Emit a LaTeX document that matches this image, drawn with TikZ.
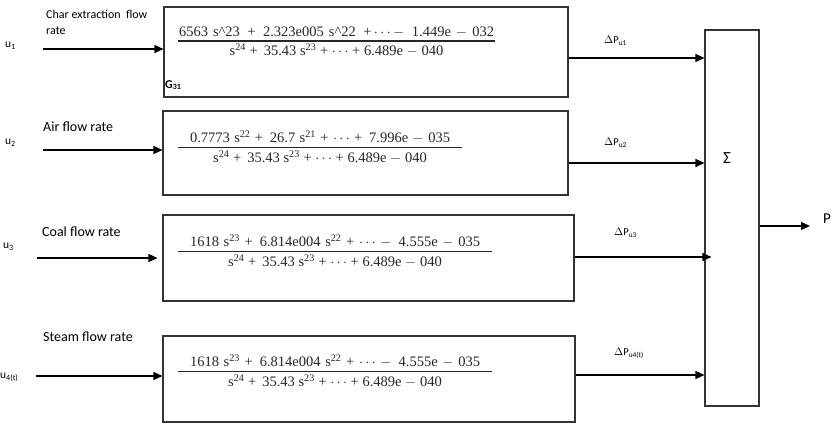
\documentclass[tikz,border=0pt]{standalone}
\usepackage{fontspec}
\setmainfont{Carlito}
\newfontfamily\fracfont{Liberation Serif}
\usetikzlibrary{arrows.meta}
\tikzset{
  blk/.style={draw=black!80, line width=1.1pt, inner sep=0pt, rectangle},
  sig/.style={line width=1.3pt, -{Triangle[length=9pt,width=8pt]}},
  lbl/.style={inner sep=0pt, anchor=west, font=\fontsize{10.5}{12}\selectfont},
  ulbl/.style={inner sep=0pt, anchor=west, font=\fontsize{11.5}{13}\selectfont},
  flbl/.style={inner sep=0pt, anchor=west, font=\fontsize{14}{16}\selectfont},
  fr/.style={inner sep=0pt, font=\fracfont\fontsize{14.5}{16}\selectfont, text=black!85},
}
\newcommand{\myexp}[1]{\textsuperscript{#1}}
% \myfrac{bar width}{numerator width}{numerator}{denominator}
\newcommand{\myfrac}[4]{\begin{tabular}{@{}c@{}}\makebox[#1]{\makebox[#2][s]{#3}}\\[-1pt]\hline\rule{0pt}{14pt}\makebox[#1]{#4}\end{tabular}}
\setlength{\arrayrulewidth}{1.6pt}
\begin{document}
\begin{tikzpicture}[x=1pt,y=-1pt]
\useasboundingbox (0,0) rectangle (835,426);
% transfer function blocks
\node[blk, minimum width=404pt, minimum height=90pt] (g1) at (366,52) {};
\node[blk, minimum width=405pt, minimum height=84pt] (g2) at (365.5,153) {};
\node[blk, minimum width=411pt, minimum height=86pt] (g3) at (368.5,258) {};
\node[blk, minimum width=412pt, minimum height=86pt] (g4) at (369,379) {};
\node[blk, minimum width=54pt, minimum height=376pt] (sum) at (732,218) {};
\node[inner sep=0pt, font=\fontsize{17}{19}\selectfont] (sigma) at (727,158) {Σ};
% fractions
\node[fr] (f1) at (336.5,43) {\myfrac{317pt}{315pt}{6563 s\^{}23 \,+\, 2.323e005 s\^{}22 \,+\,$\cdots$\,$-$\, 1.449e $-$ 032}{s\myexp{24} + \,35.43 s\myexp{23} + $\cdots$ + 6.489e $-$ 040}};
\node[inner sep=0pt, anchor=west, font=\bfseries\fontsize{12}{13}\selectfont] (gname) at (165,85) {G\textsubscript{31}};
\node[fr] (f2) at (320,149) {\myfrac{284pt}{260pt}{0.7773 s\myexp{22} + \,26.7 s\myexp{21} + $\cdots$ + \,7.996e $-$ 035}{s\myexp{24} + \,35.43 s\myexp{23} + $\cdots$ + 6.489e $-$ 040}};
\node[fr] (f3) at (335,253) {\myfrac{314pt}{290pt}{1618 s\myexp{23} + \,6.814e004 s\myexp{22} + $\cdots$ $-$ \,4.555e $-$ 035}{s\myexp{24} + \,35.43 s\myexp{23} + $\cdots$ + 6.489e $-$ 040}};
\node[fr] (f4) at (335,373) {\myfrac{314pt}{290pt}{1618 s\myexp{23} + \,6.814e004 s\myexp{22} + $\cdots$ $-$ \,4.555e $-$ 035}{s\myexp{24} + \,35.43 s\myexp{23} + $\cdots$ + 6.489e $-$ 040}};
% inputs
\node[ulbl] (u1) at (5,46) {u\textsubscript{1}};
\node[ulbl] (u2) at (5,143) {u\textsubscript{2}};
\node[ulbl] (u3) at (3,247) {u\textsubscript{3}};
\node[ulbl] (u4) at (0,377) {u\textsubscript{4(t)}};
\node[lbl, font=\fontsize{12}{16}\selectfont, align=left] (t1) at (46,22) {Char extraction\ \ flow\\rate};
\node[flbl] (t2) at (43,127) {Air flow rate};
\node[flbl] (t3) at (42,232) {Coal flow rate};
\node[flbl] (t4) at (43,337) {Steam flow rate};
\coordinate (i1) at (43,49);
\coordinate (i2) at (43,150);
\coordinate (i3) at (37,258);
\coordinate (i4) at (36,376);
\draw[sig] (i1) -- (i1 -| g1.west);
\draw[sig] (i2) -- (i2 -| g2.west);
\draw[sig] (i3) -- ([xshift=-5pt]i3 -| g3.west);
\draw[sig] (i4) -- (i4 -| g4.west);
% outputs
\coordinate (o1) at (0,58);
\coordinate (o2) at (0,163);
\coordinate (o3) at (0,257);
\coordinate (o4) at (0,375);
\draw[sig] (o1 -| g1.east) -- (o1 -| sum.west);
\draw[sig] (o2 -| g2.east) -- (o2 -| sum.west);
\draw[sig] (o3 -| g3.east) -- ([xshift=7pt]o3 -| sum.west);
\draw[sig] (o4 -| g4.east) -- (o4 -| sum.west);
\node[lbl] (d1) at (604,41) {$\Delta$P\textsubscript{u1}};
\node[lbl] (d2) at (604,143) {$\Delta$P\textsubscript{u2}};
\node[lbl] (d3) at (614,233) {$\Delta$P\textsubscript{u3}};
\node[lbl] (d4) at (614,353) {$\Delta$P\textsubscript{u4(t)}};
% output
\coordinate (out) at (810,226);
\draw[sig] (out -| sum.east) -- (out);
\node[lbl, font=\fontsize{15}{16}\selectfont] (P) at (823,219) {P};
\end{tikzpicture}
\end{document}
